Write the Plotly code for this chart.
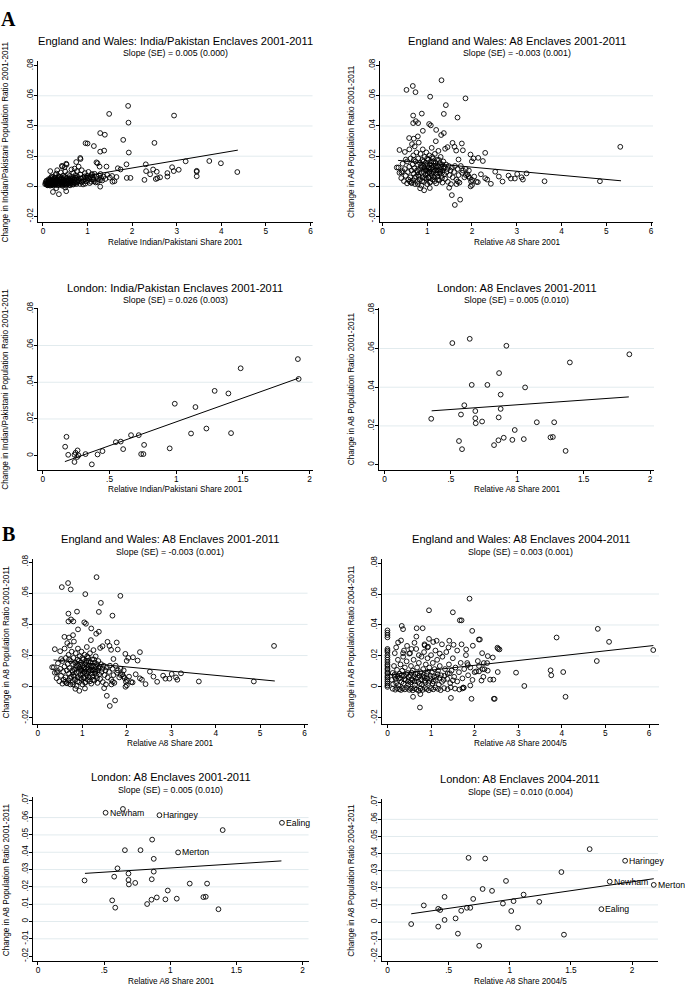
import plotly.graph_objects as go

# ---------------------------------------------------------------------------
# Data
# ---------------------------------------------------------------------------

# England and Wales: India/Pakistan enclaves 2001-2011  (x = relative share 2001, y = change)
EW_INDPAK = [
    # outliers / sparse points
    (1.91, 0.0533), (1.485, 0.048), (2.94, 0.0469), (1.918, 0.0422), (1.284, 0.0353),
    (1.388, 0.0342), (1.80, 0.0308), (0.955, 0.0286), (1.0, 0.0284), (2.5, 0.0288),
    (1.142, 0.0267), (1.373, 0.0237), (1.284, 0.023), (1.925, 0.0224), (0.843, 0.0181),
    (3.2, 0.0166), (3.73, 0.0168), (3.99, 0.0153), (1.873, 0.0146), (2.306, 0.0146),
    (0.746, 0.0161), (1.2, 0.0159), (1.224, 0.0153), (2.896, 0.0127), (1.425, 0.0131),
    (1.679, 0.012), (3.045, 0.011), (2.47, 0.0112), (3.448, 0.0103), (3.448, 0.0097),
    (4.358, 0.0095), (2.933, 0.0101), (2.313, 0.0101), (2.552, 0.0097), (2.79, 0.0088),
    (3.448, 0.0067), (2.79, 0.0065), (2.627, 0.006), (2.567, 0.0054), (2.53, 0.0049),
    (2.276, 0.0043), (1.88, 0.0056), (1.963, 0.0056), (1.649, 0.0062), (1.604, 0.0034),
    (2.403, 0.008), (1.1, 0.0082), (1.29, 0.0082), (1.284, -0.0002), (0.522, -0.0032),
    (0.358, -0.0052), (0.224, -0.0037), (0.164, 0.0101), (0.433, 0.0131), (0.53, 0.0144),
    (0.32, 0.0107), (0.425, 0.0136), (0.485, 0.0127), (0.522, 0.015), (0.836, 0.0188),
    (1.27, 0.0131), (1.74, 0.0112), (1.56, 0.0031),
    # dense cluster
    (0.05, 0.0015), (0.07, 0.002), (0.08, 0.0012), (0.09, 0.003), (0.1, 0.0018),
    (0.1, 0.0008), (0.11, 0.0025), (0.12, 0.004), (0.12, 0.0014), (0.13, 0.0022),
    (0.14, 0.0031), (0.14, 0.0009), (0.15, 0.0017), (0.15, 0.0045), (0.16, 0.0026),
    (0.17, 0.0012), (0.18, 0.0035), (0.18, 0.0055), (0.19, 0.002), (0.2, 0.0008),
    (0.2, 0.003), (0.21, 0.0042), (0.22, 0.0016), (0.22, 0.0062), (0.23, 0.0027),
    (0.24, 0.0005), (0.25, 0.0036), (0.25, 0.0019), (0.26, 0.0048), (0.27, 0.0011),
    (0.28, 0.0029), (0.28, 0.0075), (0.29, 0.0022), (0.3, 0.004), (0.3, -0.0012),
    (0.3, 0.0085), (0.31, 0.0015), (0.32, 0.0033), (0.33, 0.0055), (0.34, 0.0024),
    (0.35, 0.0009), (0.35, 0.0068), (0.36, 0.0038), (0.37, 0.002), (0.38, 0.0047),
    (0.39, 0.0013), (0.4, 0.003), (0.4, 0.0092), (0.41, 0.0058), (0.42, 0.0022),
    (0.43, 0.0036), (0.44, 0.0004), (0.45, 0.0071), (0.45, 0.0027), (0.46, 0.0044),
    (0.47, 0.0016), (0.48, 0.0033), (0.49, 0.0063), (0.5, 0.0021), (0.5, 0.0098),
    (0.5, -0.0008), (0.52, 0.0039), (0.53, 0.0012), (0.54, 0.0057), (0.55, 0.0028),
    (0.56, 0.0081), (0.57, 0.0019), (0.58, 0.0046), (0.59, 0.0032), (0.6, 0.0069),
    (0.61, 0.0007), (0.62, 0.0052), (0.63, 0.0024), (0.64, 0.0112), (0.65, 0.0038),
    (0.66, 0.0015), (0.67, 0.0061), (0.68, 0.0089), (0.69, 0.0029), (0.7, 0.0045),
    (0.71, 0.0118), (0.72, 0.002), (0.73, 0.0074), (0.74, 0.0036), (0.75, 0.0055),
    (0.76, 0.0101), (0.77, 0.0026), (0.78, 0.0064), (0.79, 0.0043), (0.8, 0.0131),
    (0.82, 0.0035), (0.84, 0.0078), (0.85, 0.0052), (0.87, 0.0107), (0.88, 0.0029),
    (0.9, 0.006), (0.92, 0.0042), (0.94, 0.0088), (0.95, 0.0018), (0.97, 0.0054),
    (0.99, 0.007), (1.0, 0.0037), (1.02, 0.0096), (1.04, 0.005), (1.06, 0.0062),
    (1.08, 0.0031), (1.1, 0.0075), (1.12, 0.0058), (1.14, 0.0045), (1.16, 0.0083),
    (1.18, 0.0026), (1.2, 0.0066), (1.23, 0.0049), (1.26, 0.0072), (1.3, 0.0057),
    (1.33, 0.0039), (1.36, 0.0065), (1.4, 0.0049), (1.44, 0.0076), (1.5, 0.0058),
    (1.55, 0.0069), (0.06, 0.0028), (0.08, 0.0038), (0.11, 0.0007), (0.13, 0.0048),
    (0.16, 0.0005), (0.17, 0.0041), (0.19, 0.0064), (0.21, 0.0013), (0.23, 0.005),
    (0.24, 0.0023), (0.26, 0.0016), (0.27, 0.0058), (0.29, 0.0034), (0.31, 0.0047),
    (0.33, 0.0007), (0.34, 0.0041), (0.36, 0.0017), (0.37, 0.006), (0.39, 0.0026),
    (0.41, 0.001), (0.42, 0.0049), (0.44, 0.0029), (0.46, 0.0011), (0.47, 0.0054),
    (0.49, 0.0024), (0.51, 0.0008), (0.53, 0.0047), (0.55, 0.0014), (0.57, 0.0034),
    (0.59, 0.0011), (0.6, 0.0041), (0.62, 0.0018), (0.64, 0.0029), (0.66, 0.0049),
    (0.68, 0.0012), (0.7, 0.0025), (0.72, 0.0058), (0.75, 0.0015), (0.78, 0.0034),
    (0.83, 0.0016), (0.86, 0.0031), (0.9, 0.0013), (0.93, 0.0066), (0.96, 0.0033),
    (1.0, 0.0055), (1.05, 0.0022), (1.1, 0.0046), (1.15, 0.0034), (1.22, 0.0029),
    (1.28, 0.0041),
]
EW_INDPAK_FIT_X = [0.08, 4.37]
EW_INDPAK_FIT_Y = [0.0026, 0.0240]

# London: India/Pakistan enclaves 2001-2011
LDN_INDPAK_X = [1.912, 1.918, 1.483, 1.288, 1.391, 0.989, 1.144, 1.226, 1.111, 1.411,
                0.951, 0.661, 0.719, 0.547, 0.584, 0.602, 0.759, 0.737, 0.754, 0.41,
                0.447, 0.32, 0.177, 0.167, 0.19, 0.26, 0.237, 0.245, 0.257, 0.267,
                0.237, 0.367]
LDN_INDPAK_Y = [0.0526, 0.0418, 0.0476, 0.0353, 0.0339, 0.0283, 0.0265, 0.0148, 0.0121, 0.0123,
                0.0040, 0.0112, 0.0112, 0.0074, 0.0077, 0.0036, 0.0059, 0.0009, 0.0009, 0.0007,
                0.0025, 0.0009, 0.0103, 0.0049, 0.0005, 0.0029, 0.0005, 0.0016, -0.0007, 0.0002,
                -0.0034, -0.0047]
LDN_INDPAK_FIT_X = [0.165, 1.92]
LDN_INDPAK_FIT_Y = [-0.0032, 0.0423]

# England and Wales: A8 enclaves 2001-2011
EW_A8_01 = [
    # outliers / sparse points
    (1.319, 0.0703), (0.678, 0.0665), (0.537, 0.0639), (0.738, 0.0624), (1.066, 0.0594),
    (1.855, 0.0583), (1.416, 0.0538), (1.371, 0.048), (0.879, 0.0482), (0.686, 0.0469),
    (1.677, 0.0456), (0.686, 0.0419), (0.797, 0.0419), (1.043, 0.0413), (1.08, 0.0404),
    (0.745, 0.0432), (0.902, 0.0368), (1.2, 0.0374), (1.371, 0.0353), (1.311, 0.034),
    (0.596, 0.032), (0.7, 0.0316), (0.79, 0.0331), (1.192, 0.0299), (1.565, 0.0288),
    (1.773, 0.0284), (1.61, 0.0262), (1.4, 0.0249), (1.453, 0.026), (1.647, 0.0237),
    (1.796, 0.0239), (0.38, 0.0241), (0.5, 0.0228), (2.295, 0.0222), (1.967, 0.0211),
    (2.139, 0.0189), (2.034, 0.0185), (1.997, 0.0166), (2.243, 0.0168), (5.313, 0.0262),
    (1.699, 0.0178), (0.522, 0.0178), (2.519, 0.0097), (2.817, 0.0071), (2.869, 0.0052),
    (2.958, 0.0052), (3.01, 0.0082), (3.107, 0.006), (3.137, 0.0045), (3.219, 0.0086),
    (3.621, 0.0034), (4.858, 0.0034), (2.683, 0.0032), (2.422, 0.0017), (2.295, 0.0054),
    (2.34, 0.0045), (2.0, 0.0043), (1.98, 0.0032), (1.97, 0.0), (2.0, 0.0009),
    (2.13, 0.0028), (1.55, -0.0058), (1.736, -0.0088), (1.617, -0.0123), (0.931, -0.0026),
    (1.058, -0.0011), (1.49, -0.0009), (0.358, 0.0125), (0.425, 0.0092), (0.447, 0.0101),
    (0.611, 0.0032), (0.656, 0.0022), (0.79, 0.0015), (0.842, -0.0013), (1.654, 0.0015),
    (1.684, 0.0032), (1.863, 0.0075), (1.922, 0.0067),
    # dense cluster
    (0.32, 0.0125), (0.38, 0.009), (0.42, 0.0055), (0.45, 0.015), (0.48, 0.0035),
    (0.5, 0.0115), (0.52, 0.007), (0.55, 0.002), (0.55, 0.0165), (0.57, 0.0095),
    (0.58, 0.0045), (0.6, 0.013), (0.6, 0.0245), (0.62, 0.006), (0.63, 0.0185),
    (0.64, 0.0025), (0.65, 0.0105), (0.66, 0.028), (0.67, 0.0145), (0.68, 0.004),
    (0.69, 0.0205), (0.7, 0.0085), (0.71, 0.012), (0.72, 0.0265), (0.73, 0.0015),
    (0.74, 0.0165), (0.75, 0.0065), (0.76, 0.0225), (0.77, 0.0105), (0.78, 0.003),
    (0.79, 0.0145), (0.8, 0.0185), (0.8, 0.0075), (0.81, 0.029), (0.82, 0.011),
    (0.83, 0.0045), (0.84, 0.0155), (0.85, 0.0215), (0.86, 0.009), (0.87, 0.0005),
    (0.88, 0.0125), (0.89, 0.0175), (0.9, 0.006), (0.9, 0.0245), (0.91, 0.0135),
    (0.92, 0.0095), (0.93, 0.003), (0.94, 0.0195), (0.95, 0.0115), (0.96, 0.0075),
    (0.97, 0.0155), (0.98, 0.005), (0.98, 0.0225), (0.99, 0.0105), (1.0, 0.0135),
    (1.0, 0.0015), (1.01, 0.0085), (1.02, 0.0175), (1.03, 0.012), (1.04, 0.0055),
    (1.05, 0.0205), (1.05, 0.0095), (1.06, 0.0145), (1.07, 0.003), (1.08, 0.0115),
    (1.09, 0.0165), (1.1, 0.0075), (1.1, 0.0255), (1.11, 0.0125), (1.12, 0.0045),
    (1.13, 0.0185), (1.14, 0.0095), (1.15, 0.0135), (1.16, 0.006), (1.17, 0.0215),
    (1.18, 0.0105), (1.19, 0.0155), (1.2, 0.002), (1.2, 0.0125), (1.21, 0.0085),
    (1.22, 0.0175), (1.23, 0.0065), (1.24, 0.0135), (1.25, 0.0235), (1.26, 0.0105),
    (1.27, 0.004), (1.28, 0.0155), (1.29, 0.0095), (1.3, 0.0195), (1.31, 0.0125),
    (1.32, 0.007), (1.33, 0.0145), (1.34, 0.0025), (1.35, 0.0105), (1.36, 0.0165),
    (1.38, 0.008), (1.39, 0.0125), (1.4, 0.005), (1.42, 0.0145), (1.43, 0.0095),
    (1.45, 0.0115), (1.46, 0.003), (1.48, 0.0135), (1.5, 0.0075), (1.52, 0.0105),
    (1.53, 0.0015), (1.55, 0.0125), (1.57, 0.006), (1.6, 0.0095), (1.62, 0.0135),
    (1.65, 0.0045), (1.68, 0.0115), (1.7, 0.0075), (1.72, 0.0025), (1.75, 0.0135),
    (1.78, 0.009), (1.8, 0.0105), (1.83, 0.006), (1.86, 0.0115), (1.9, 0.008),
    (1.93, 0.0105), (1.95, 0.0055), (2.05, 0.0065), (2.1, 0.003), (2.2, 0.008),
    (2.6, 0.0065), (0.82, 0.0065), (0.86, 0.0135), (0.89, 0.0035), (0.92, 0.0165),
    (0.95, 0.0055), (0.97, 0.0105), (1.0, 0.0185), (1.02, 0.006), (1.04, 0.0125),
    (1.06, 0.0025), (1.08, 0.0155), (1.09, 0.0085), (1.11, 0.0195), (1.13, 0.0065),
    (1.15, 0.0115), (1.17, 0.0035), (1.19, 0.0135), (1.22, 0.0105), (1.24, 0.0045),
    (1.26, 0.0175), (1.28, 0.0085), (1.3, 0.011), (1.33, 0.0055), (1.36, 0.012),
    (1.04, 0.0095), (0.94, 0.0125), (1.14, 0.0165), (0.78, 0.0095), (0.72, 0.0055),
    (0.7, 0.0175),
]
EW_A8_01_FIT_X = [0.35, 5.33]
EW_A8_01_FIT_Y = [0.0172, 0.0037]

# London: A8 enclaves 2001-2011 (boroughs)
LDN_A8_01_X = [0.511, 0.642, 0.918, 1.844, 1.396, 0.863, 0.657, 0.775, 1.059, 0.875,
               0.601, 0.684, 0.875, 0.576, 0.684, 0.687, 0.735, 0.860, 0.352, 1.147,
               1.278, 0.981, 0.561, 0.584, 0.825, 0.858, 0.898, 0.963, 1.049, 1.25,
               1.268, 1.364]
LDN_A8_01_Y = [0.0628, 0.0650, 0.0614, 0.0570, 0.0528, 0.0473, 0.0412, 0.0412, 0.0399, 0.0362,
               0.0307, 0.0277, 0.0288, 0.0259, 0.0240, 0.0214, 0.0223, 0.0244, 0.0237, 0.0219,
               0.0219, 0.0179, 0.0122, 0.0080, 0.0101, 0.0126, 0.0139, 0.0128, 0.0132, 0.0141,
               0.0143, 0.0071]
LDN_A8_01_LAB = ["Newham", "", "Haringey", "Ealing", "", "", "", "", "Merton", "",
                 "", "", "", "", "", "", "", "", "", "",
                 "", "", "", "", "", "", "", "", "", "",
                 "", ""]
LDN_A8_01_FIT_X = [0.355, 1.84]
LDN_A8_01_FIT_Y = [0.0278, 0.0350]

# England and Wales: A8 enclaves 2004-2011  (x = relative share 2004/5)
EW_A8_04 = [
    # outliers / sparse points
    (1.883, 0.057), (0.953, 0.0495), (1.5, 0.0482), (1.66, 0.043), (1.70, 0.043),
    (0.328, 0.0394), (0.358, 0.0373), (0.67, 0.0379), (0.808, 0.0379), (1.944, 0.0362),
    (4.825, 0.0375), (3.88, 0.0319), (0.663, 0.0325), (0.953, 0.031), (2.096, 0.0306),
    (2.12, 0.0306), (5.084, 0.0291), (1.128, 0.0298), (1.418, 0.0298), (0.244, 0.0287),
    (0.312, 0.03), (1.517, 0.0272), (1.959, 0.0266), (0.854, 0.0268), (0.93, 0.026),
    (2.523, 0.0253), (2.57, 0.0242), (2.54, 0.0246), (6.097, 0.0238), (1.806, 0.0242),
    (2.172, 0.0218), (2.302, 0.0199), (2.416, 0.019), (0.168, 0.0218), (0.358, 0.0218),
    (0.518, 0.0218), (4.802, 0.0167), (2.073, 0.0167), (2.21, 0.0154), (2.286, 0.0154),
    (1.83, 0.0154), (1.845, 0.0141), (2.53, 0.0096), (2.95, 0.0092), (3.742, 0.0107),
    (3.758, 0.0075), (4.032, 0.0096), (2.035, 0.010), (2.1, 0.010), (2.18, 0.0114),
    (2.226, 0.0114), (2.157, 0.0041), (2.355, 0.0047), (2.43, 0.0047), (1.9, 0.0009),
    (3.14, 0.0006), (1.72, -0.001), (1.74, -0.0004), (0.587, -0.0064), (0.755, -0.0047),
    (1.456, -0.0071), (1.928, -0.0077), (2.44, -0.0077), (2.46, -0.0077), (4.085, -0.0064),
    (0.745, -0.0133),
    # zero-share column
    (0, 0.0365), (0, 0.035), (0, 0.0335), (0, 0.032), (0, 0.0245), (0, 0.0235),
    (0, 0.0225), (0, 0.0205), (0, 0.019), (0, 0.0175), (0, 0.016), (0, 0.0145),
    (0, 0.0135), (0, 0.012), (0, 0.011), (0, 0.0095), (0, 0.0085), (0, 0.007),
    (0, 0.006), (0, 0.0048), (0, 0.0035), (0, 0.0022), (0, 0.001), (0, 0.0),
    # band just below zero
    (0.12, -0.0012), (0.18, -0.0018), (0.22, -0.0008), (0.27, -0.0015), (0.31, -0.002),
    (0.35, -0.001), (0.4, -0.0016), (0.45, -0.0006), (0.5, -0.0019), (0.54, -0.0012),
    (0.58, -0.0022), (0.62, -0.0009), (0.67, -0.0017), (0.72, -0.0025), (0.76, -0.0011),
    (0.81, -0.0019), (0.86, -0.0007), (0.9, -0.0014), (0.95, -0.0022), (1.0, -0.0009),
    (1.05, -0.0016), (1.1, -0.0004), (1.16, -0.0013), (1.22, -0.0021), (1.3, -0.0008),
    (1.38, -0.0015), (1.45, -0.0003), (1.55, -0.0011), (1.65, -0.0017), (1.75, -0.0006),
    # main cluster
    (0.1, 0.0045), (0.12, 0.009), (0.15, 0.0135), (0.17, 0.0065), (0.2, 0.0025),
    (0.22, 0.011), (0.24, 0.0175), (0.26, 0.0055), (0.28, 0.0085), (0.3, 0.0145),
    (0.32, 0.003), (0.34, 0.0105), (0.36, 0.0195), (0.38, 0.007), (0.4, 0.0125),
    (0.42, 0.0045), (0.44, 0.0165), (0.46, 0.009), (0.48, 0.0015), (0.5, 0.0215),
    (0.52, 0.0075), (0.54, 0.0135), (0.56, 0.005), (0.58, 0.0105), (0.6, 0.0175),
    (0.62, 0.0035), (0.64, 0.0085), (0.66, 0.0245), (0.68, 0.0125), (0.7, 0.006),
    (0.72, 0.0155), (0.74, 0.002), (0.76, 0.0095), (0.78, 0.0195), (0.8, 0.0065),
    (0.82, 0.0115), (0.84, 0.0225), (0.86, 0.004), (0.88, 0.0145), (0.9, 0.0085),
    (0.92, 0.0185), (0.94, 0.0025), (0.96, 0.0125), (0.98, 0.0055), (1.0, 0.0205),
    (1.02, 0.0095), (1.04, 0.0155), (1.06, 0.0035), (1.08, 0.0115), (1.1, 0.0235),
    (1.12, 0.0065), (1.14, 0.0175), (1.16, 0.0105), (1.18, 0.0015), (1.2, 0.0135),
    (1.23, 0.0075), (1.26, 0.0195), (1.29, 0.0045), (1.32, 0.0115), (1.35, 0.0225),
    (1.38, 0.0085), (1.41, 0.0145), (1.44, 0.0025), (1.47, 0.0105), (1.5, 0.0185),
    (1.53, 0.0065), (1.56, 0.0125), (1.6, 0.0035), (1.64, 0.0095), (1.68, 0.0155),
    (1.72, 0.0055), (1.76, 0.0115), (1.8, 0.0205), (1.85, 0.0075), (1.9, 0.0125),
    (1.95, 0.0045), (2.0, 0.0095), (2.1, 0.0135), (2.2, 0.0065), (2.3, 0.0105),
    (0.13, 0.0018), (0.16, 0.0078), (0.19, 0.0052), (0.23, 0.0068), (0.25, 0.0012),
    (0.29, 0.0058), (0.33, 0.0075), (0.37, 0.0022), (0.39, 0.0048), (0.43, 0.0082),
    (0.47, 0.0035), (0.49, 0.0065), (0.53, 0.0028), (0.55, 0.0092), (0.57, 0.0042),
    (0.61, 0.0068), (0.63, 0.0012), (0.65, 0.0055), (0.69, 0.0088), (0.71, 0.0032),
    (0.73, 0.0072), (0.77, 0.0048), (0.79, 0.0015), (0.83, 0.0078), (0.85, 0.0062),
    (0.87, 0.0028), (0.91, 0.0052), (0.93, 0.0098), (0.97, 0.0038), (0.99, 0.0072),
    (1.03, 0.0022), (1.07, 0.0068), (1.11, 0.0045), (1.15, 0.0082), (1.19, 0.0058),
    (1.25, 0.0032), (1.31, 0.0072), (1.37, 0.0052), (1.43, 0.0088), (1.5, 0.0042),
    (0.2, 0.0255), (0.38, 0.0235), (0.45, 0.0265), (0.55, 0.0245), (0.62, 0.0285),
    (0.72, 0.0205), (0.85, 0.0275), (0.92, 0.0255), (1.05, 0.029), (1.2, 0.0215),
    (1.25, 0.0275), (1.4, 0.0255), (1.6, 0.0235), (1.7, 0.0275),
]
EW_A8_04_FIT_X = [0.0, 6.1]
EW_A8_04_FIT_Y = [0.0077, 0.0267]

# London: A8 enclaves 2004-2011 (boroughs)
LDN_A8_04_X = [1.653, 1.943, 0.663, 0.799, 1.422, 0.969, 1.817, 2.177, 0.778, 0.855,
               0.467, 1.113, 0.701, 1.241, 1.031, 0.944, 0.297, 0.415, 0.431, 0.649,
               0.677, 0.603, 1.012, 1.749, 0.557, 0.467, 0.415, 0.194, 1.067, 0.576,
               1.443, 0.75]
LDN_A8_04_Y = [0.0426, 0.0358, 0.0375, 0.0371, 0.0292, 0.0240, 0.0236, 0.0217, 0.0193, 0.0182,
               0.0147, 0.0160, 0.0135, 0.0118, 0.0122, 0.0108, 0.0097, 0.0077, 0.0070, 0.0083,
               0.0083, 0.0066, 0.0064, 0.0075, 0.0021, 0.0012, -0.0027, -0.0012, -0.0033, -0.0068,
               -0.0074, -0.0139]
LDN_A8_04_LAB = ["", "Haringey", "", "", "", "", "Newham", "Merton", "", "",
                 "", "", "", "", "", "", "", "", "", "",
                 "", "", "", "Ealing", "", "", "", "", "", "",
                 "", ""]
LDN_A8_04_FIT_X = [0.194, 2.177]
LDN_A8_04_FIT_Y = [0.0048, 0.0253]

# Axis ticks
X_TICKS_WIDE = [0, 1, 2, 3, 4, 5, 6]
X_TEXT_WIDE = ["0", "1", "2", "3", "4", "5", "6"]
X_TICKS_NARROW = [0, 0.5, 1, 1.5, 2]
X_TEXT_NARROW = ["0", ".5", "1", "1.5", "2"]
Y_TICKS_A = [-0.02, 0, 0.02, 0.04, 0.06, 0.08]
Y_TEXT_A = ["-.02", "0", ".02", ".04", ".06", ".08"]
Y_TICKS_B = [0, 0.02, 0.04, 0.06, 0.08]
Y_TEXT_B = ["0", ".02", ".04", ".06", ".08"]
Y_TICKS_C = [-0.02, -0.01, 0, 0.01, 0.02, 0.03, 0.04, 0.05, 0.06, 0.07]
Y_TEXT_C = ["-.02", "-.01", "0", ".01", ".02", ".03", ".04", ".05", ".06", ".07"]

# ---------------------------------------------------------------------------
# Figure
# ---------------------------------------------------------------------------
W, H = 685, 987
FONT = "Liberation Sans, Arial, Helvetica, sans-serif"
GRID = "#e2ebee"

YT_IP = "Change in Indian/Pakistani Population Ratio 2001-2011"
YT_A8 = "Change in A8 Population Ratio 2001-2011"
YT_A8_04 = "Change in A8 Population Ratio 2004-2011"
XT_IP = "Relative Indian/Pakistani Share 2001"
XT_A8 = "Relative A8 Share 2001"
XT_A8_04 = "Relative A8 Share 2004/5"

ew_ip_x, ew_ip_y = zip(*EW_INDPAK)
ew_a8_x, ew_a8_y = zip(*EW_A8_01)
ew_a804_x, ew_a804_y = zip(*EW_A8_04)

# box = (left, right, top, bottom) of the plot region, in pixels
panels = [
    dict(x=ew_ip_x, y=ew_ip_y, fx=EW_INDPAK_FIT_X, fy=EW_INDPAK_FIT_Y, lab=None,
         box=(38, 313, 55, 218), xr=[-0.112, 6.045], yr=[-0.0239, 0.0833],
         xt=(X_TICKS_WIDE, X_TEXT_WIDE), yt=(Y_TICKS_A, Y_TEXT_A),
         title="England and Wales: India/Pakistan Enclaves 2001-2011",
         sub="Slope (SE) = 0.005 (0.000)", xtitle=XT_IP, ytitle=YT_IP),
    dict(x=ew_a8_x, y=ew_a8_y, fx=EW_A8_01_FIT_X, fy=EW_A8_01_FIT_Y, lab=None,
         box=(381, 654, 55, 218), xr=[-0.045, 6.045], yr=[-0.0239, 0.0833],
         xt=(X_TICKS_WIDE, X_TEXT_WIDE), yt=(Y_TICKS_A, Y_TEXT_A),
         title="England and Wales: A8 Enclaves 2001-2011",
         sub="Slope (SE) = -0.003 (0.001)", xtitle=XT_A8, ytitle=YT_A8),
    dict(x=LDN_INDPAK_X, y=LDN_INDPAK_Y, fx=LDN_INDPAK_FIT_X, fy=LDN_INDPAK_FIT_Y, lab=None,
         box=(38, 313, 304, 467), xr=[-0.037, 2.022], yr=[-0.0076, 0.0805],
         xt=(X_TICKS_NARROW, X_TEXT_NARROW), yt=(Y_TICKS_B, Y_TEXT_B),
         title="London: India/Pakistan Enclaves 2001-2011",
         sub="Slope (SE) = 0.026 (0.003)", xtitle=XT_IP, ytitle=YT_IP),
    dict(x=LDN_A8_01_X, y=LDN_A8_01_Y, fx=LDN_A8_01_FIT_X, fy=LDN_A8_01_FIT_Y, lab=None,
         box=(380, 655, 304, 467), xr=[-0.038, 2.03], yr=[-0.0026, 0.081],
         xt=(X_TICKS_NARROW, X_TEXT_NARROW), yt=(Y_TICKS_B, Y_TEXT_B),
         title="London: A8 Enclaves 2001-2011",
         sub="Slope (SE) = 0.005 (0.010)", xtitle=XT_A8, ytitle=YT_A8),
    dict(x=ew_a8_x, y=ew_a8_y, fx=EW_A8_01_FIT_X, fy=EW_A8_01_FIT_Y, lab=None,
         box=(33, 308, 557, 723), xr=[-0.112, 6.067], yr=[-0.0238, 0.0819],
         xt=(X_TICKS_WIDE, X_TEXT_WIDE), yt=(Y_TICKS_A, Y_TEXT_A),
         title="England and Wales: A8 Enclaves 2001-2011",
         sub="Slope (SE) = -0.003 (0.001)", xtitle=XT_A8, ytitle=YT_A8),
    dict(x=ew_a804_x, y=ew_a804_y, fx=EW_A8_04_FIT_X, fy=EW_A8_04_FIT_Y, lab=None,
         box=(383, 660, 557, 723), xr=[-0.115, 6.23], yr=[-0.0239, 0.0826],
         xt=(X_TICKS_WIDE, X_TEXT_WIDE), yt=(Y_TICKS_A, Y_TEXT_A),
         title="England and Wales: A8 Enclaves 2004-2011",
         sub="Slope (SE) = 0.003 (0.001)", xtitle=XT_A8_04, ytitle=YT_A8_04),
    dict(x=LDN_A8_01_X, y=LDN_A8_01_Y, fx=LDN_A8_01_FIT_X, fy=LDN_A8_01_FIT_Y, lab=LDN_A8_01_LAB,
         box=(33, 309, 797, 962), xr=[-0.038, 2.045], yr=[-0.0229, 0.0717],
         xt=(X_TICKS_NARROW, X_TEXT_NARROW), yt=(Y_TICKS_C, Y_TEXT_C),
         title="London: A8 Enclaves 2001-2011",
         sub="Slope (SE) = 0.005 (0.010)", xtitle=XT_A8, ytitle=YT_A8),
    dict(x=LDN_A8_04_X, y=LDN_A8_04_Y, fx=LDN_A8_04_FIT_X, fy=LDN_A8_04_FIT_Y, lab=LDN_A8_04_LAB,
         box=(383, 659, 799, 962), xr=[-0.041, 2.212], yr=[-0.0229, 0.0717],
         xt=(X_TICKS_NARROW, X_TEXT_NARROW), yt=(Y_TICKS_C, Y_TEXT_C),
         title="London: A8 Enclaves 2004-2011",
         sub="Slope (SE) = 0.010 (0.004)", xtitle=XT_A8_04, ytitle=YT_A8_04),
]

fig = go.Figure()
layout = dict(
    width=W, height=H,
    margin=dict(l=0, r=0, t=0, b=0),
    paper_bgcolor="white", plot_bgcolor="white",
    showlegend=False,
    font=dict(family=FONT, color="black"),
)
shapes = []
annotations = []

for i, p in enumerate(panels, start=1):
    sfx = "" if i == 1 else str(i)
    l, r, t, b = p["box"]
    xa, ya = "x" + sfx, "y" + sfx

    fig.add_trace(go.Scatter(
        x=p["x"], y=p["y"], mode="markers",
        marker=dict(symbol="circle-open", size=4.8, color="black",
                    line=dict(width=0.9, color="black")),
        cliponaxis=False,
        xaxis=xa, yaxis=ya, hoverinfo="skip",
    ))
    fig.add_trace(go.Scatter(
        x=p["fx"], y=p["fy"], mode="lines",
        line=dict(color="black", width=1),
        xaxis=xa, yaxis=ya, hoverinfo="skip",
    ))

    # borough marker labels (placed to the right of the marker)
    if p["lab"] is not None:
        for xv, yv, name in zip(p["x"], p["y"], p["lab"]):
            if name:
                annotations.append(dict(
                    text=name, x=xv, y=yv, xref=xa, yref=ya,
                    showarrow=False, xanchor="left", yanchor="middle", xshift=2,
                    font=dict(size=8.7, color="black")))

    common = dict(
        showline=True, linecolor="black", linewidth=1,
        ticks="outside", ticklen=3, tickwidth=1, tickcolor="black",
        showgrid=False, zeroline=False, ticklabelstandoff=-2,
        tickfont=dict(size=8.3, color="black"),
    )
    layout["xaxis" + sfx] = dict(
        domain=[l / W, r / W], anchor=ya, range=p["xr"],
        tickvals=p["xt"][0], ticktext=p["xt"][1], **common)
    layout["yaxis" + sfx] = dict(
        domain=[1 - b / H, 1 - t / H], anchor=xa, range=p["yr"],
        tickvals=p["yt"][0], ticktext=p["yt"][1], tickangle=-90, **common)

    # interior horizontal grid lines (not at the extreme labels)
    for v in p["yt"][0][1:-1]:
        shapes.append(dict(type="line", xref=xa + " domain", yref=ya,
                           x0=0, x1=1, y0=v, y1=v, layer="below",
                           line=dict(color=GRID, width=1)))

    cx = (l + r) / 2 / W
    annotations += [
        dict(text=p["title"], x=cx, y=1 - (t - 20) / H, xref="paper", yref="paper",
             showarrow=False, xanchor="center", yanchor="middle",
             font=dict(size=11.1, color="black")),
        dict(text=p["sub"], x=cx, y=1 - (t - 7.5) / H, xref="paper", yref="paper",
             showarrow=False, xanchor="center", yanchor="middle",
             font=dict(size=8.8, color="black")),
        dict(text=p["xtitle"], x=cx, y=1 - (b + 20) / H, xref="paper", yref="paper",
             showarrow=False, xanchor="center", yanchor="middle",
             font=dict(size=8.2, color="black")),
        dict(text=p["ytitle"], x=(6 if l < 200 else 352) / W, y=1 - (t + b) / 2 / H,
             xref="paper", yref="paper", textangle=-90,
             showarrow=False, xanchor="center", yanchor="middle",
             font=dict(size=8.2, color="black")),
    ]

annotations += [
    dict(text="<b>A</b>", x=8.5 / W, y=1 - 13.5 / H, xref="paper", yref="paper",
         showarrow=False, xanchor="center", yanchor="middle",
         font=dict(size=20, family="Liberation Serif, Times New Roman, serif", color="black")),
    dict(text="<b>B</b>", x=8.5 / W, y=1 - 531.5 / H, xref="paper", yref="paper",
         showarrow=False, xanchor="center", yanchor="middle",
         font=dict(size=20, family="Liberation Serif, Times New Roman, serif", color="black")),
]

layout["shapes"] = shapes
layout["annotations"] = annotations
fig.update_layout(**layout)

# the page body has a default 8px margin; drop it so the figure fills the window
fig.write_html("out.html", config={"displayModeBar": False},
               post_script="document.body.style.margin = '0';")
